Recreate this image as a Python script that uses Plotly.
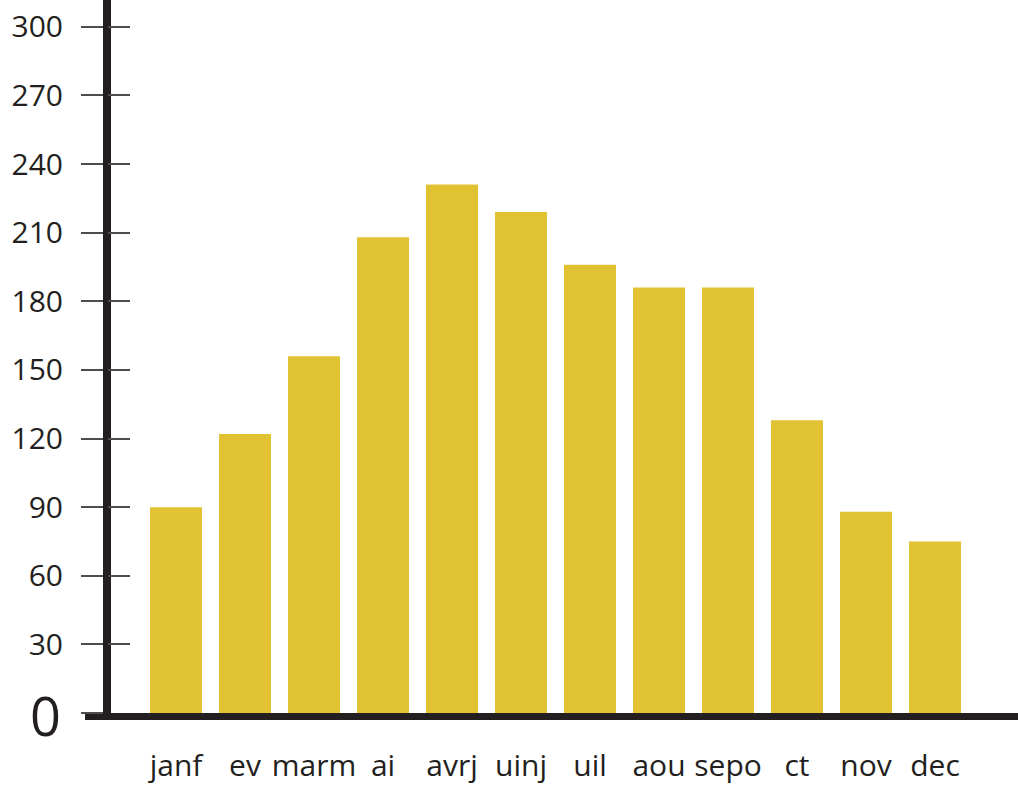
import plotly.graph_objects as go

months = ["janf", "ev", "marm", "ai", "avrj", "uinj", "uil", "aou", "sepo", "ct", "nov", "dec"]
values = [90, 122, 156, 208, 231, 219, 196, 186, 186, 128, 88, 75]
y_ticks = [0, 30, 60, 90, 120, 150, 180, 210, 240, 270, 300]
y_tick_text = [""] + [str(v) for v in y_ticks[1:]]
zero_label = "0"

BAR = "#e1c232"
INK = "#231f20"
FONT = "Open Sans"

W, H = 1018, 787
left, bottom = 85, 74
plot_w = W - left
axis_pos = (107 - left) / plot_w

fig = go.Figure()
fig.add_trace(go.Bar(x=months, y=values, marker=dict(color=BAR, line=dict(width=0)),
                     hoverinfo="x+y"))
# invisible companion trace on the overlaid axis (carries the inward tick halves)
fig.add_trace(go.Scatter(x=months, y=values, yaxis="y2", mode="none",
                         showlegend=False, hoverinfo="skip"))

yr = [0, 311.7]
common_y = dict(range=yr, tickvals=y_ticks, showgrid=False, zeroline=False,
                anchor="free", position=axis_pos, tickcolor="#4d4d4d", tickwidth=1.6,
                ticklen=22, fixedrange=True, automargin=False)

fig.update_layout(
    width=W, height=H,
    margin=dict(l=left, r=0, t=0, b=bottom, autoexpand=False),
    plot_bgcolor="white", paper_bgcolor="white",
    showlegend=False,
    bargap=0.246,
    font=dict(family=FONT, color=INK),
    xaxis=dict(
        domain=[0, 1],
        range=[(left - 176) / 69, (W - 176) / 69],
        showline=True, linecolor=INK, linewidth=7,
        ticks="", showgrid=False, zeroline=False, automargin=False,
        tickfont=dict(size=30, family=FONT, color=INK),
        ticklabelstandoff=20,
    ),
    yaxis=dict(
        **common_y,
        showline=True, linecolor=INK, linewidth=8,
        ticks="outside", ticktext=y_tick_text,
        tickfont=dict(size=30, family=FONT, color=INK),
        ticklabelstandoff=12,
    ),
    yaxis2=dict(
        **common_y,
        overlaying="y", side="left",
        showline=False, ticks="inside", showticklabels=False,
    ),
    annotations=[dict(
        text=zero_label, xref="paper", yref="y", x=(63 - left) / plot_w, y=0,
        xanchor="right", yanchor="middle", yshift=-2, showarrow=False,
        font=dict(size=54, family=FONT, color=INK),
    )],
)

fig.write_html("out.html")
